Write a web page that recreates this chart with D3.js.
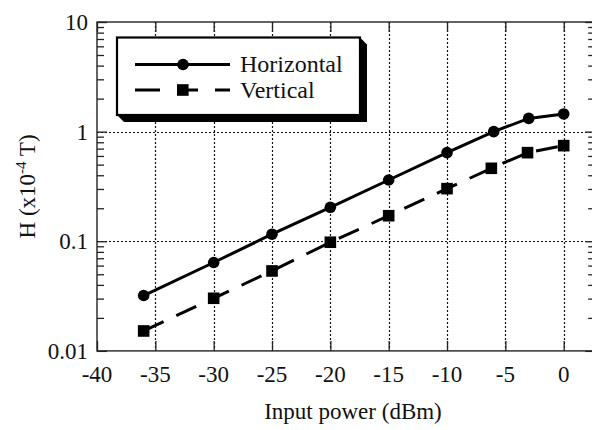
<!DOCTYPE html>
<html>
<head>
<meta charset="utf-8">
<script src="https://cdn.jsdelivr.net/npm/d3@7"></script>
<style>
  html, body { margin: 0; padding: 0; background: #fff; }
  svg { display: block; }
  text { font-family: "Liberation Serif", "Times New Roman", serif; fill: #111; }
</style>
</head>
<body>
<svg id="chart" width="592" height="430"></svg>
<script>
// Input power (dBm) and field H (x10^-4 T) for the two orientations
const horizPower = [-36, -30, -25, -20, -15, -10, -6, -3, 0];
const horizH     = [0.032, 0.064, 0.116, 0.204, 0.362, 0.643, 1.0, 1.32, 1.45];
const vertPower  = [-36, -30, -25, -20, -15, -10, -6.2, -3.1, 0];
const vertH      = [0.0152, 0.0302, 0.0536, 0.098, 0.171, 0.302, 0.463, 0.643, 0.745];

const xTicks = [-40, -35, -30, -25, -20, -15, -10, -5, 0];
const yTicks = [0.01, 0.1, 1, 10];
const yTickLabels = ["0.01", "0.1", "1", "10"];
const seriesNames = ["Horizontal", "Vertical"];

const svg = d3.select("#chart");
const plotL = 97, plotR = 595.2, plotT = 22, plotB = 350.9;

const x = d3.scaleLinear().domain([-40, 2.7]).range([plotL, plotR]);
const y = d3.scaleLog().domain([0.01, 10]).range([plotB, plotT]);

// minor ticks 2..9 within each decade
const minor = [];
[0.01, 0.1, 1].forEach(d => { for (let k = 2; k <= 9; k++) minor.push(d * k); });

const g = svg.append("g");

// dotted grid
g.selectAll(".vgrid").data(xTicks.filter(v => v > -40)).join("line")
  .attr("x1", d => Math.round(x(d)) + 0.5).attr("x2", d => Math.round(x(d)) + 0.5)
  .attr("y1", plotT).attr("y2", plotB)
  .attr("stroke", "#111").attr("stroke-width", 1.2).attr("stroke-dasharray", "2,2");
g.selectAll(".hgrid").data([0.1, 1]).join("line")
  .attr("x1", plotL).attr("x2", plotR)
  .attr("y1", d => Math.round(y(d)) + 0.5).attr("y2", d => Math.round(y(d)) + 0.5)
  .attr("stroke", "#111").attr("stroke-width", 1.2).attr("stroke-dasharray", "2,2");

// axes on all four sides, ticks pointing inward
const axStyle = sel => {
  sel.select(".domain").remove();
  sel.selectAll(".tick line").attr("stroke", "#222").attr("stroke-width", 1.3);
  sel.selectAll("text").remove();
};
g.append("g").attr("transform", `translate(0,${plotB})`)
  .call(d3.axisBottom(x).tickValues(xTicks).tickSizeInner(-10).tickSizeOuter(0)).call(axStyle);
g.append("g").attr("transform", `translate(0,${plotT})`)
  .call(d3.axisTop(x).tickValues(xTicks).tickSizeInner(-10).tickSizeOuter(0)).call(axStyle);
g.append("g").attr("transform", `translate(${plotL},0)`)
  .call(d3.axisLeft(y).tickValues(yTicks).tickSizeInner(-10).tickSizeOuter(0)).call(axStyle);
g.append("g").attr("transform", `translate(${plotL},0)`)
  .call(d3.axisLeft(y).tickValues(minor).tickSizeInner(-7).tickSizeOuter(0)).call(axStyle);
g.append("g").attr("transform", `translate(${plotR},0)`)
  .call(d3.axisRight(y).tickValues(yTicks).tickSizeInner(-10).tickSizeOuter(0)).call(axStyle);
g.append("g").attr("transform", `translate(${plotR},0)`)
  .call(d3.axisRight(y).tickValues(minor).tickSizeInner(-7).tickSizeOuter(0)).call(axStyle);

// frame
g.append("rect").attr("x", plotL).attr("y", plotT)
  .attr("width", plotR - plotL).attr("height", plotB - plotT)
  .attr("fill", "none").attr("stroke", "#222").attr("stroke-width", 1.4);

// tick labels
g.selectAll(".xl").data(xTicks).join("text")
  .attr("x", d => x(d)).attr("y", 382)
  .attr("text-anchor", "middle").attr("font-size", 23)
  .text(d => d);
g.selectAll(".yl").data(yTicks).join("text")
  .attr("x", 88).attr("y", d => y(d) + 8)
  .attr("text-anchor", "end").attr("font-size", 23)
  .text((d, i) => yTickLabels[i]);

// axis titles
g.append("text").attr("x", 353).attr("y", 419)
  .attr("text-anchor", "middle").attr("font-size", 23)
  .text("Input power (dBm)");
const yt = g.append("text")
  .attr("transform", `translate(35,${(plotT + plotB) / 2}) rotate(-90)`)
  .attr("text-anchor", "middle").attr("font-size", 23);
yt.append("tspan").text("H (x10");
yt.append("tspan").attr("dy", -9).attr("font-size", 15).text("-4");
yt.append("tspan").attr("dy", 9).text(" T)");

// series
const line = d3.line().x(d => x(d[0])).y(d => y(d[1]));
const hData = horizPower.map((p, i) => [p, horizH[i]]);
const vData = vertPower.map((p, i) => [p, vertH[i]]);

g.append("path").datum(hData).attr("d", line)
  .attr("fill", "none").attr("stroke", "#000").attr("stroke-width", 3);
g.append("path").datum(vData).attr("d", line)
  .attr("fill", "none").attr("stroke", "#000").attr("stroke-width", 3)
  .attr("stroke-dasharray", "22,14");

g.selectAll(".hpt").data(hData).join("circle")
  .attr("cx", d => x(d[0])).attr("cy", d => y(d[1])).attr("r", 5.8).attr("fill", "#000");
g.selectAll(".vpt").data(vData).join("rect")
  .attr("x", d => x(d[0]) - 5.8).attr("y", d => y(d[1]) - 5.8)
  .attr("width", 11.6).attr("height", 11.6).attr("fill", "#000");

// legend box with 3D shadow
const lx0 = 117, ly0 = 37.5, lx1 = 360, ly1 = 115, sh = 7;
g.append("polygon")
  .attr("points", [[lx1, ly0], [lx1 + sh, ly0 + sh], [lx1 + sh, ly1 + sh], [lx0 + sh, ly1 + sh], [lx0, ly1]].map(p => p.join(",")).join(" "))
  .attr("fill", "#000");
g.append("rect").attr("x", lx0).attr("y", ly0)
  .attr("width", lx1 - lx0).attr("height", ly1 - ly0)
  .attr("fill", "#fff").attr("stroke", "#000").attr("stroke-width", 2.2);

const leg = g.append("g");
leg.append("line").attr("x1", 135).attr("x2", 230).attr("y1", 64.5).attr("y2", 64.5)
  .attr("stroke", "#000").attr("stroke-width", 3);
leg.append("circle").attr("cx", 183).attr("cy", 64.5).attr("r", 5.8).attr("fill", "#000");
leg.append("line").attr("x1", 135).attr("x2", 230).attr("y1", 90).attr("y2", 90)
  .attr("stroke", "#000").attr("stroke-width", 3).attr("stroke-dasharray", "25,17,21,17");
leg.append("rect").attr("x", 177).attr("y", 84.2).attr("width", 11.6).attr("height", 11.6).attr("fill", "#000");
leg.selectAll(".lt").data(seriesNames).join("text")
  .attr("x", 240).attr("y", (d, i) => 72 + i * 25.5)
  .attr("font-size", 24).text(d => d);
</script>
</body>
</html>
